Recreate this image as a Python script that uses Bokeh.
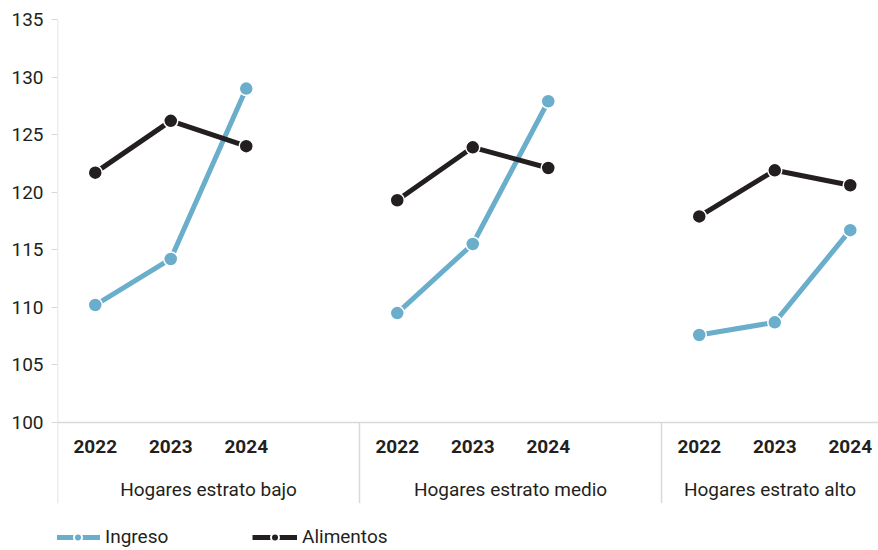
from bokeh.plotting import figure
from bokeh.models import Range1d, FixedTicker, Span, Legend, LegendItem, ColumnDataSource
from bokeh.core.properties import value
from bokeh.embed import file_html
from bokeh.resources import INLINE

# ---- data -------------------------------------------------------------
groups = ["Hogares estrato bajo", "Hogares estrato medio", "Hogares estrato alto"]
years = ["2022", "2023", "2024"]
ingreso = [
    [110.2, 114.2, 129.0],
    [109.5, 115.5, 127.9],
    [107.6, 108.7, 116.7],
]
alimentos = [
    [121.7, 126.2, 124.0],
    [119.3, 123.9, 122.1],
    [117.9, 121.9, 120.6],
]
y_ticks = [100, 105, 110, 115, 120, 125, 130, 135]

# ---- style ------------------------------------------------------------
FONT = "Roboto"
BLUE = "#6aaecb"
BLACK = "#231f20"
TEXT = "#231f20"
RULE = "#d9d9d9"
SLOTS = 4  # each group holds three years plus one empty slot

Y_MIN, Y_MAX = 88.88, 135   # frame runs down to the canvas bottom (legend row)
Y_BAND = 92.99              # bottom of the category band
X_MAX = 10.874


def xpos(g, i):
    return g * SLOTS + i + 0.5


p = figure(
    width=878, height=550,
    x_range=Range1d(0, X_MAX), y_range=Range1d(Y_MIN, Y_MAX),
    output_backend="svg", toolbar_location=None,
    x_axis_location=None,
    min_border_left=57, min_border_right=0, min_border_top=19, min_border_bottom=0,
    background_fill_color="white", border_fill_color="white",
)
p.outline_line_color = None
p.grid.visible = False

ax = p.yaxis[0]
ax.ticker = FixedTicker(ticks=y_ticks)
ax.axis_line_color = None
ax.major_tick_line_color = RULE
ax.major_tick_line_width = 1.2
ax.major_tick_in = 0
ax.major_tick_out = 6
ax.minor_tick_line_color = None
ax.major_label_text_font = FONT
ax.major_label_text_font_size = "19px"
ax.major_label_text_color = TEXT
ax.major_label_standoff = 8

# baseline at 100
p.add_layout(Span(location=100, dimension="width", line_color=RULE, line_width=1.5))

# left rule plus group separators, running from the top of the value axis
# (left rule) or the baseline (separators) down through the category band
seps = [g * SLOTS for g in range(len(groups))]
tops = [Y_MAX] + [100] * (len(seps) - 1)
p.segment(x0=seps, x1=seps, y0=[Y_BAND] * len(seps), y1=tops,
          line_color=RULE, line_width=1.5)

# category labels: years and group names
yx, ylab = [], []
for g in range(len(groups)):
    for i, yr in enumerate(years):
        yx.append(xpos(g, i))
        ylab.append(yr)
p.text(x=yx, y=[100] * len(yx), text=ylab, y_offset=24,
       text_font=value(FONT), text_font_size="19px", text_font_style="bold",
       text_color=TEXT, text_align="center", text_baseline="middle")

# group names are centred on the visible part of their band
gx = [(g * SLOTS + min((g + 1) * SLOTS, X_MAX)) / 2 for g in range(len(groups))]
p.text(x=gx, y=[100] * len(gx), text=groups, y_offset=67,
       text_font=value(FONT), text_font_size="19px",
       text_color=TEXT, text_align="center", text_baseline="middle")


# ---- series -----------------------------------------------------------
def draw_series(vals, color):
    xs = [[xpos(g, i) for i in range(len(years))] for g in range(len(groups))]
    p.multi_line(xs=xs, ys=vals, line_color=color, line_width=5)
    px = [x for row in xs for x in row]
    py = [v for row in vals for v in row]
    p.scatter(x=px, y=py, size=14, fill_color=color, line_color="white", line_width=1.5)


draw_series(ingreso, BLUE)
draw_series(alimentos, BLACK)

# legend swatches (line with a small dot); the renderers hold no drawable point
items = []
for name, color in [("Ingreso", BLUE), ("Alimentos", BLACK)]:
    swatch = ColumnDataSource(dict(x=[float("nan")], y=[float("nan")]))
    lr = p.line(x="x", y="y", source=swatch, line_color=color, line_width=5)
    sr = p.scatter(x="x", y="y", source=swatch, size=7, fill_color=color,
                   line_color="white", line_width=2)
    items.append(LegendItem(label=name, renderers=[lr, sr]))

legend = Legend(
    items=items, orientation="horizontal", location=(-2, 2),
    glyph_width=45, glyph_height=20, label_standoff=5, label_width=147,
    spacing=0, padding=0, margin=0,
    label_text_font=FONT, label_text_font_size="19px", label_text_color=TEXT,
    border_line_color=None, background_fill_alpha=0,
)
p.add_layout(legend)

open("out.html", "w").write(file_html(p, INLINE))
